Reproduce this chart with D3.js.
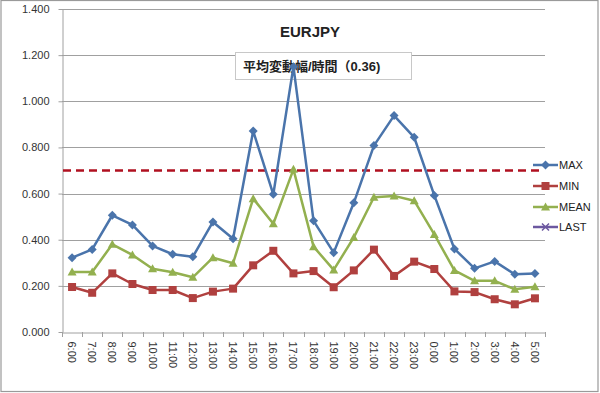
<!DOCTYPE html>
<html><head><meta charset="utf-8">
<script src="https://cdn.jsdelivr.net/npm/d3@7/dist/d3.min.js"></script>
<style>
html,body{margin:0;padding:0;background:#fff;}
svg{display:block;font-family:"Liberation Sans",Arial,"Noto Sans CJK JP",sans-serif;}
</style></head><body>
<svg id="c" width="600" height="393"></svg>
<script>
const categories = ["6:00","7:00","8:00","9:00","10:00","11:00","12:00","13:00","14:00","15:00","16:00","17:00","18:00","19:00","20:00","21:00","22:00","23:00","0:00","1:00","2:00","3:00","4:00","5:00"];
const maxValues  = [0.322,0.358,0.506,0.464,0.373,0.337,0.326,0.477,0.404,0.871,0.597,1.150,0.482,0.344,0.560,0.808,0.938,0.844,0.592,0.360,0.276,0.306,0.250,0.254];
const minValues  = [0.195,0.170,0.254,0.208,0.182,0.182,0.147,0.175,0.188,0.289,0.352,0.254,0.264,0.194,0.267,0.357,0.243,0.305,0.273,0.176,0.173,0.142,0.120,0.146];
const meanValues = [0.260,0.260,0.380,0.334,0.274,0.259,0.237,0.322,0.298,0.578,0.469,0.705,0.370,0.269,0.410,0.584,0.590,0.569,0.423,0.267,0.222,0.222,0.185,0.196];
const lastValues = [];
const yTicks = [0,0.2,0.4,0.6,0.8,1.0,1.2,1.4];
const thresholdValue = 0.7;
const seriesNames = ["MAX","MIN","MEAN","LAST"];
const titleText = "EURJPY";
const subtitleText = "平均変動幅/時間（0.36)";

const svg = d3.select("#c");
const W = 600, H = 393;
const L = 62, R = 545, T = 9, B = 332;

svg.append("rect").attr("x",1).attr("y",0.5).attr("width",W-3).attr("height",H-2)
  .attr("fill","#fff").attr("stroke","#9a9a9a").attr("stroke-width",1.2);

const x = d3.scaleBand().domain(categories).range([L,R]);
const y = d3.scaleLinear().domain([0,1.4]).range([B,T]);

// gridlines
svg.append("g").selectAll("line").data(yTicks.filter(d=>d>0)).join("line")
  .attr("x1",L).attr("x2",R).attr("y1",d=>Math.round(y(d))+0.5).attr("y2",d=>Math.round(y(d))+0.5)
  .attr("stroke","#a0a0a0").attr("stroke-width",1);

// y axis
const ya = svg.append("g").attr("transform",`translate(${L+0.5},0)`)
  .call(d3.axisLeft(y).tickValues(yTicks).tickFormat(d3.format(".3f")).tickSize(4).tickSizeOuter(0));
ya.select(".domain").attr("stroke","#a0a0a0");
ya.selectAll(".tick line").attr("stroke","#a0a0a0");
ya.selectAll("text").attr("font-size",11).attr("fill","#333").attr("x",-13);

// x axis
const xa = svg.append("g").attr("transform",`translate(0,${Math.round(B)+0.5})`)
  .call(d3.axisBottom(x).tickSize(0).tickSizeOuter(0));
xa.select(".domain").attr("stroke","#a0a0a0");
xa.selectAll(".tick text").attr("font-size",11).attr("fill","#333")
  .attr("transform","rotate(90)").attr("text-anchor","start").attr("dominant-baseline","central")
  .attr("x",9).attr("y",0).attr("dy",null);
// boundary ticks
const bounds = categories.map(c=>x(c)).concat([R]);
svg.append("g").selectAll("line").data(bounds).join("line")
  .attr("x1",d=>Math.round(d)+0.5).attr("x2",d=>Math.round(d)+0.5)
  .attr("y1",Math.round(B)).attr("y2",Math.round(B)+5)
  .attr("stroke","#a0a0a0");

// title
svg.append("text").attr("x",310).attr("y",37).attr("text-anchor","middle")
  .attr("font-size",15).attr("font-weight","bold").attr("fill","#222").text(titleText);
// subtitle box
svg.append("rect").attr("x",235.5).attr("y",52.5).attr("width",176).attr("height",27)
  .attr("fill","#fff").attr("stroke","#c8c8c8");
svg.append("text").attr("x",243).attr("y",71).attr("font-size",13).attr("font-weight","bold")
  .attr("fill","#222").text(subtitleText);

// threshold
svg.append("line").attr("x1",L+1).attr("x2",541).attr("y1",y(thresholdValue)).attr("y2",y(thresholdValue))
  .attr("stroke","#b01020").attr("stroke-width",2.5).attr("stroke-dasharray","8,5");

const colors = {MAX:"#4a74ab",MIN:"#b0403f",MEAN:"#93b04f",LAST:"#6c58a0"};
const data = {MAX:maxValues,MIN:minValues,MEAN:meanValues,LAST:lastValues};
const cx = i => x(categories[i]) + x.bandwidth()/2;
const line = d3.line().x((d,i)=>cx(i)).y(d=>y(d));

function marker(g, name, px, py){
  const c = colors[name];
  if(name==="MAX"){
    g.append("path").attr("d",`M${px},${py-4.5}L${px+4.5},${py}L${px},${py+4.5}L${px-4.5},${py}Z`).attr("fill",c);
  } else if(name==="MIN"){
    g.append("rect").attr("x",px-4).attr("y",py-4).attr("width",8).attr("height",8).attr("fill",c);
  } else if(name==="MEAN"){
    g.append("path").attr("d",`M${px},${py-4.5}L${px+4.5},${py+3.5}L${px-4.5},${py+3.5}Z`).attr("fill",c);
  } else {
    g.append("path").attr("d",`M${px-3.5},${py-3.5}L${px+3.5},${py+3.5}M${px-3.5},${py+3.5}L${px+3.5},${py-3.5}`)
      .attr("stroke",c).attr("stroke-width",1.5);
  }
}

["MEAN","MIN","MAX","LAST"].forEach(name=>{
  const vals = data[name];
  if(!vals.length) return;
  const g = svg.append("g");
  g.append("path").datum(vals).attr("d",line).attr("fill","none")
    .attr("stroke",colors[name]).attr("stroke-width",2.5).attr("stroke-linejoin","round");
  vals.forEach((v,i)=>marker(g,name,cx(i),y(v)));
});

// legend
const ly = [165,186,207,227];
seriesNames.forEach((name,i)=>{
  const g = svg.append("g");
  g.append("line").attr("x1",533).attr("x2",558).attr("y1",ly[i]).attr("y2",ly[i])
    .attr("stroke",colors[name]).attr("stroke-width",2.5);
  marker(g,name,545.5,ly[i]);
  g.append("text").attr("x",559).attr("y",ly[i]).attr("dominant-baseline","central")
    .attr("font-size",11).attr("fill","#222").text(name);
});
</script>
</body></html>
